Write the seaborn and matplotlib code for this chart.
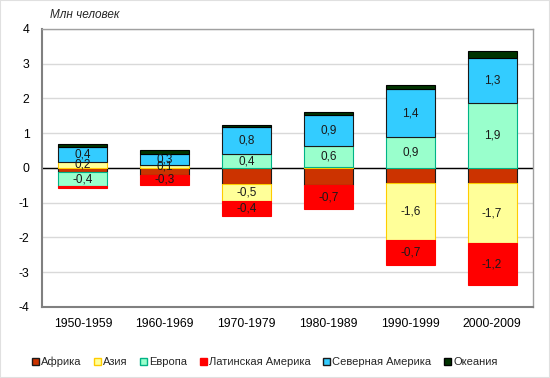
import numpy as np
import matplotlib
matplotlib.use("Agg")
import matplotlib.pyplot as plt
from matplotlib.patches import Patch, Rectangle
import seaborn as sns

periods = ["1950-1959", "1960-1969", "1970-1979", "1980-1989", "1990-1999", "2000-2009"]
regions = ["Африка", "Азия", "Европа", "Латинская Америка", "Северная Америка", "Океания"]

# migration balance, million people
africa = [-0.13, -0.20, -0.46, -0.49, -0.44, -0.44]
asia = [0.18, 0.08, -0.48, 0.03, -1.63, -1.73]
europe = [-0.39, 0.0, 0.39, 0.61, 0.88, 1.86]
latam = [-0.07, -0.29, -0.44, -0.70, -0.72, -1.20]
n_america = [0.42, 0.31, 0.78, 0.87, 1.39, 1.30]
oceania = [0.10, 0.12, 0.07, 0.09, 0.12, 0.21]

series = [africa, asia, europe, latam, n_america, oceania]
face_colors = ["#CC3300", "#FFFF99", "#99FFCC", "#FF0000", "#33CCFF", "#003300"]
edge_colors = ["#1a1a1a", "#FFCC00", "#00B386", "#FF0000", "#1a1a1a", "#000000"]
labelled = ["Азия", "Европа", "Латинская Америка", "Северная Америка"]

sns.set_style("white")
plt.rcParams["font.family"] = ["Liberation Sans", "DejaVu Sans"]
plt.rcParams["axes.unicode_minus"] = False

fig = plt.figure(figsize=(5.5, 3.78), dpi=100)
ax = fig.add_axes([0.0764, 0.188, 0.8927, 0.7354])

pos_base = np.zeros(len(periods))
neg_base = np.zeros(len(periods))
for name, vals, fc, ec in zip(regions, series, face_colors, edge_colors):
    vals = np.array(vals, dtype=float)
    bottom = np.where(vals >= 0, pos_base, neg_base)
    sns.barplot(x=periods, y=vals, bottom=bottom, color=fc, edgecolor=ec,
                linewidth=0.8, saturation=1, width=0.6, errorbar=None,
                ax=ax, zorder=3)
    if name in labelled:
        for i, v in enumerate(vals):
            if abs(v) >= 0.075:
                ax.text(i, bottom[i] + v / 2, f"{v:.1f}".replace(".", ","),
                        ha="center", va="center", fontsize=8.5,
                        color="#1a1a1a", zorder=5)
    pos_base = pos_base + np.clip(vals, 0, None)
    neg_base = neg_base + np.clip(vals, None, 0)

ax.axhline(0, color="black", lw=1, zorder=2.5)
ax.set_ylim(-4, 4)
ax.set_yticks(range(-4, 5))
ax.set_xlim(-0.5, len(periods) - 0.5)
ax.yaxis.grid(True, color="#D9D9D9", lw=1)
ax.set_axisbelow(True)
ax.tick_params(axis="both", length=0, labelsize=8.8, colors="#000000")
ax.tick_params(axis="y", pad=9)
ax.tick_params(axis="x", pad=8)
ax.set_xlabel("")
ax.set_ylabel("")
for side in ["left", "bottom"]:
    ax.spines[side].set_color("#808080")
    ax.spines[side].set_linewidth(1.5)
for side in ["top", "right"]:
    ax.spines[side].set_color("#A0A0A0")
    ax.spines[side].set_linewidth(1)

fig.text(0.091, 0.96, "Млн человек", style="italic", fontsize=8.5, va="center")

handles = [Patch(facecolor=fc, edgecolor=ec, label=name)
           for name, fc, ec in zip(regions, face_colors, edge_colors)]
fig.legend(handles=handles, loc="center", bbox_to_anchor=(0.481, 0.042), ncol=6,
           frameon=False, fontsize=8, handlelength=0.65, handleheight=0.65,
           handletextpad=0.2, columnspacing=1.1)

fig.patches.append(Rectangle((0, 0), 1, 1, transform=fig.transFigure, fill=False,
                             edgecolor="#E0E0E0", lw=1.5))

fig.savefig("out.png", dpi=100)
